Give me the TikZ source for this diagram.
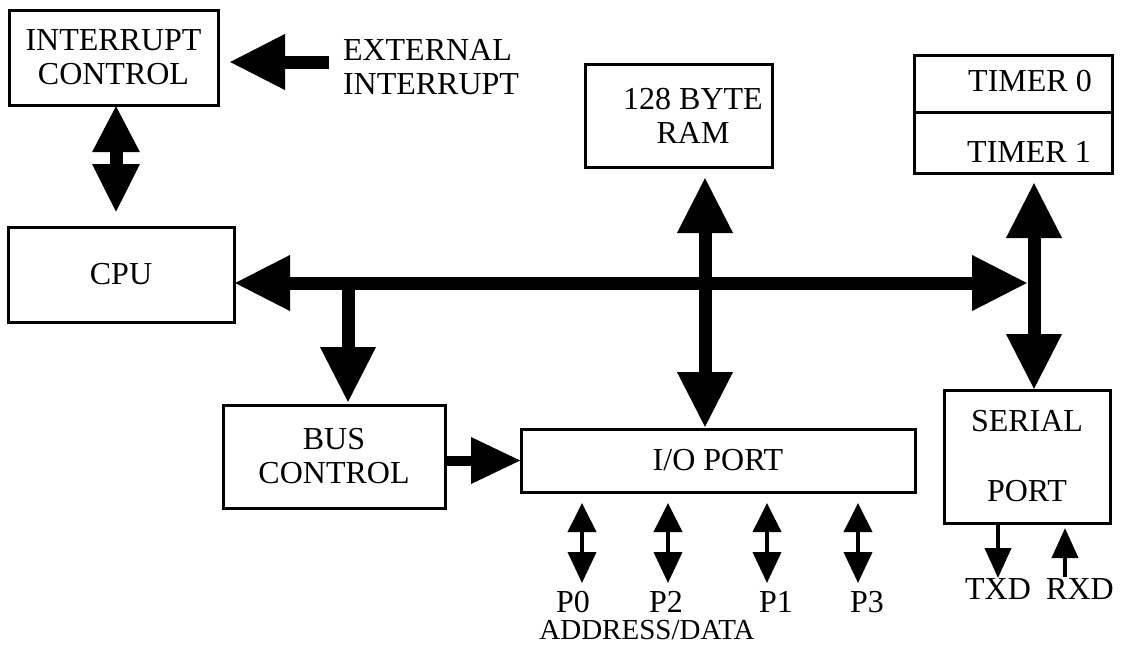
\documentclass[tikz,border=0pt]{standalone}
\usepackage{fontspec}
\setmainfont{Liberation Serif}
\usetikzlibrary{arrows.meta}
\newcommand\dfont{\fontsize{32}{34}\selectfont}
\newcommand\afont{\fontsize{29}{34}\selectfont}
\begin{document}
\begin{tikzpicture}[x=1pt,y=-1pt,
  box/.style={draw, line width=3pt, inner sep=0pt, outer sep=0pt, align=center, font=\dfont},
  txt/.style={inner sep=0pt, outer sep=0pt, align=center, font=\dfont},
  bigdbl/.style={line width=13pt, {Triangle[length=56pt,width=52pt]}-{Triangle[length=56pt,width=52pt]}},
  bigone/.style={line width=13pt, -{Triangle[length=56pt,width=52pt]}},
  icdbl/.style={line width=13pt, {Triangle[length=47pt,width=44pt]}-{Triangle[length=49pt,width=44pt]}},
  midone/.style={line width=10pt, -{Triangle[length=50pt,width=44pt]}},
  portdbl/.style={line width=4pt, {Triangle[length=29pt,width=28pt]}-{Triangle[length=31pt,width=28pt]}},
  serone/.style={line width=4pt, -{Triangle[length=30pt,width=26pt]}}]
\useasboundingbox[fill=white] (0,0) rectangle (1124,657);

% boxes
\node[box, minimum width=209pt, minimum height=95pt] (ic) at (113.5,57.5) {INTERRUPT\\CONTROL};
\node[box, minimum width=226pt, minimum height=95pt] (cpu) at (121,274.5) {CPU};
\node[box, minimum width=222pt, minimum height=103pt] (bc) at (334,456.5) {BUS\\CONTROL};
\node[box, minimum width=394pt, minimum height=63pt] (io) at (718,460.5) {I/O PORT};
\node[box, minimum width=187pt, minimum height=103pt] (ram) at (678.5,115.5) {};
\node[txt] (ramtxt) at (693,115.5) {128 BYTE\\RAM};
\node[box, minimum width=198pt, minimum height=57pt] (t0) at (1013,83.5) {};
\node[box, minimum width=198pt, minimum height=61pt] (t1) at (1013,142.5) {};
\node[txt] (t0txt) at (1030,81) {TIMER 0};
\node[txt] (t1txt) at (1029,152) {TIMER 1};
\node[box, minimum width=166pt, minimum height=133pt] (ser) at (1027,456.5) {SERIAL\\[36pt]PORT};

% texts
\node[txt, anchor=west, align=left] (ext) at (343,67.5) {EXTERNAL\\INTERRUPT};
\node[txt] (p0) at (573,602) {P0};
\node[txt] (p2) at (666,602) {P2};
\node[txt] (p1) at (776,602) {P1};
\node[txt] (p3) at (867,602) {P3};
\node[txt, font=\afont] (ad) at (647,630) {ADDRESS/DATA};
\node[txt] (txd) at (998,589) {TXD};
\node[txt] (rxd) at (1080,589) {RXD};

% coordinates
\coordinate (extc) at (329,62);
\coordinate (busR) at (1034,283);
\coordinate (brn) at (348,283);
\coordinate (ramx) at (705,283);
\coordinate (icx) at (116,160);
\coordinate (q0) at (582,583);
\coordinate (q2) at (668,583);
\coordinate (q1) at (767,583);
\coordinate (q3) at (858,583);
\coordinate (tx) at (998,578);
\coordinate (rx) at (1065,577);

% connectors
\draw[bigone, shorten >=11pt] (extc) -- (ic.east |- extc);
\draw[icdbl, shorten >=14pt] (ic.south -| icx) -- (cpu.north -| icx);
\draw[bigdbl, shorten >=6pt] (cpu.east |- busR) -- (busR);
\draw[bigone, shorten >=2pt] (brn) -- (bc.north -| brn);
\draw[bigdbl, shorten <=10pt, shorten >=1pt] (ramx |- ram.south) -- (ramx |- io.north);
\draw[bigdbl, shorten <=9pt] (busR |- t1.south) -- (busR |- ser.north);
\draw[midone] (bc.east |- io.west) -- (io.west);
\draw[portdbl, shorten <=11pt] (io.south -| q0) -- (q0);
\draw[portdbl, shorten <=11pt] (io.south -| q2) -- (q2);
\draw[portdbl, shorten <=11pt] (io.south -| q1) -- (q1);
\draw[portdbl, shorten <=11pt] (io.south -| q3) -- (q3);
\draw[serone] (ser.south -| tx) -- (tx);
\draw[serone, shorten >=5pt] (rx) -- (ser.south -| rx);
\end{tikzpicture}
\end{document}
